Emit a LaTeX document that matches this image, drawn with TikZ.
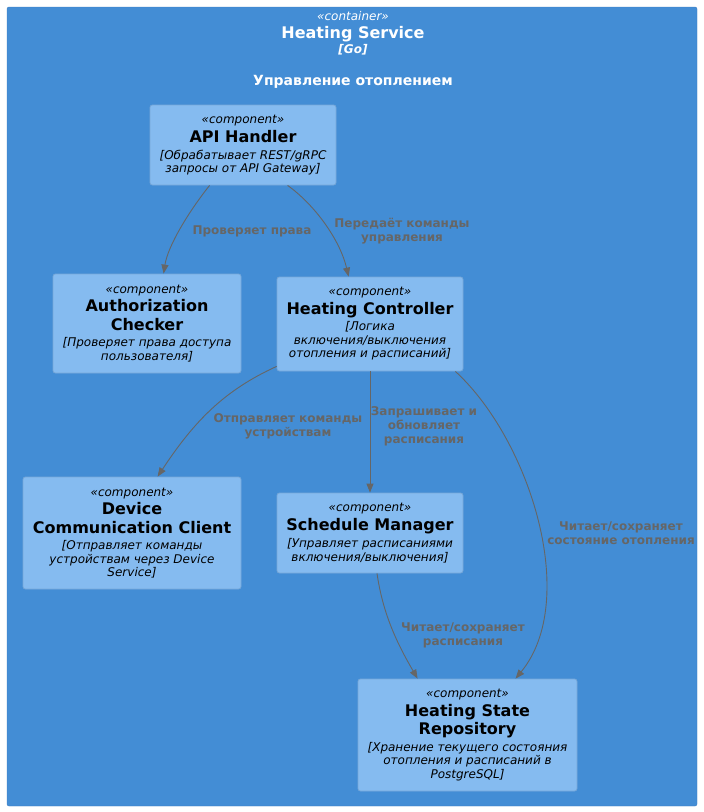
\documentclass[tikz,border=0pt]{standalone}
\usepackage{fontspec}
\setmainfont{DejaVu Sans}
\usetikzlibrary{arrows.meta}
\definecolor{contfill}{HTML}{438DD5}
\definecolor{contline}{HTML}{3C7DBE}
\definecolor{compfill}{HTML}{85BBF0}
\definecolor{compline}{HTML}{78A8D8}
\definecolor{relgray}{HTML}{666666}
\newcommand\stfont{\fontsize{12}{13.5}\selectfont\itshape}
\newcommand\nmfont{\fontsize{16}{18.5}\selectfont\bfseries}
\newcommand\dsfont{\fontsize{12}{13.5}\selectfont\itshape}
\newcommand\lbfont{\fontsize{12}{14}\selectfont\bfseries}
\newcommand\compbasefont{\fontsize{12}{13.5}\selectfont\lineskiplimit=-30pt\relax}
\begin{document}
\begin{tikzpicture}[x=1pt,y=-1pt,
  comp/.style={draw=compline, fill=compfill, rounded corners=2.5pt, align=center, inner sep=0pt, line width=0.8pt, text=black, font=\compbasefont},
  rel/.style={draw=relgray, line width=0.9pt, -{Triangle[length=9pt,width=7pt]}},
  rellabel/.style={text=relgray, font=\lbfont, align=center, inner sep=0pt},
  conttext/.style={text=white, align=center, inner sep=0pt}]
\useasboundingbox (0,0) rectangle (704,812);
\node[draw=contline, fill=contfill, rounded corners=2pt, minimum width=690pt, minimum height=799pt, inner sep=0pt] (cont) at (352,406.5) {};
\node[conttext, font=\fontsize{12}{14}\selectfont\itshape] (cst) at (353,16) {«container»};
\node[conttext, font=\fontsize{16}{18}\selectfont\bfseries] (cname) at (353,34.5) {Heating Service};
\node[conttext, font=\fontsize{12}{14}\selectfont\bfseries\itshape] (ctech) at (353,49.5) {[Go]};
\node[conttext, font=\fontsize{14}{16}\selectfont\bfseries] (cdesc) at (353,81.5) {Управление отоплением};

\node[comp, minimum width=186pt, minimum height=80pt] (api) at (243,145)
  {\stfont «component»\\[5.5pt] \nmfont API Handler\\[3.5pt] \dsfont [Обрабатывает REST/gRPC\\ \dsfont запросы от API Gateway]};
\node[comp, minimum width=188pt, minimum height=99pt] (auth) at (147,323.5)
  {\stfont «component»\\[5pt] \nmfont Authorization\\[5pt] \nmfont Checker\\[3pt] \dsfont [Проверяет права доступа\\ \dsfont пользователя]};
\node[comp, minimum width=186pt, minimum height=94pt] (hc) at (370,324)
  {\stfont «component»\\[5pt] \nmfont Heating Controller\\[3pt] \dsfont [Логика\\ \dsfont включения/выключения\\ \dsfont отопления и расписаний]};
\node[comp, minimum width=218pt, minimum height=112pt] (dev) at (132,533)
  {\stfont «component»\\[5pt] \nmfont Device\\[5pt] \nmfont Communication Client\\[3pt] \dsfont [Отправляет команды\\ \dsfont устройствам через Device\\ \dsfont Service]};
\node[comp, minimum width=186pt, minimum height=80pt] (sch) at (370,533)
  {\stfont «component»\\[5.5pt] \nmfont Schedule Manager\\[3.5pt] \dsfont [Управляет расписаниями\\ \dsfont включения/выключения]};
\node[comp, minimum width=219pt, minimum height=112pt] (repo) at (467.5,735)
  {\stfont «component»\\[5pt] \nmfont Heating State\\[5pt] \nmfont Repository\\[3pt] \dsfont [Хранение текущего состояния\\ \dsfont отопления и расписаний в\\ \dsfont PostgreSQL]};

\draw[rel] ([xshift=60pt]api.south west) .. controls (190,210) and (168,245) .. ([xshift=111pt]auth.north west);
\draw[rel] ([xshift=138pt]api.south west) .. controls (315,205) and (340,240) .. ([xshift=72pt]hc.north west);
\draw[rel] ([yshift=5pt]hc.south west) .. controls (225,390) and (195,420) .. ([xshift=135pt]dev.north west);
\draw[rel] (hc.south) -- (sch.north);
\draw[rel] ([xshift=-8pt]hc.south east) .. controls (530,440) and (580,600) .. ([xshift=158pt]repo.north west);
\draw[rel] ([xshift=7pt]sch.south) .. controls (383,615) and (398,645) .. ([xshift=60pt]repo.north west);

\node[rellabel] (l1) at (252,231) {Проверяет права};
\node[rellabel] (l2) at (402,231) {Передаёт команды\\управления};
\node[rellabel] (l3) at (288,426) {Отправляет команды\\устройствам};
\node[rellabel] (l4) at (424,426) {Запрашивает и\\обновляет\\расписания};
\node[rellabel] (l5) at (621,533) {Читает/сохраняет\\состояние отопления};
\node[rellabel] (l6) at (463,635) {Читает/сохраняет\\расписания};
\end{tikzpicture}
\end{document}
